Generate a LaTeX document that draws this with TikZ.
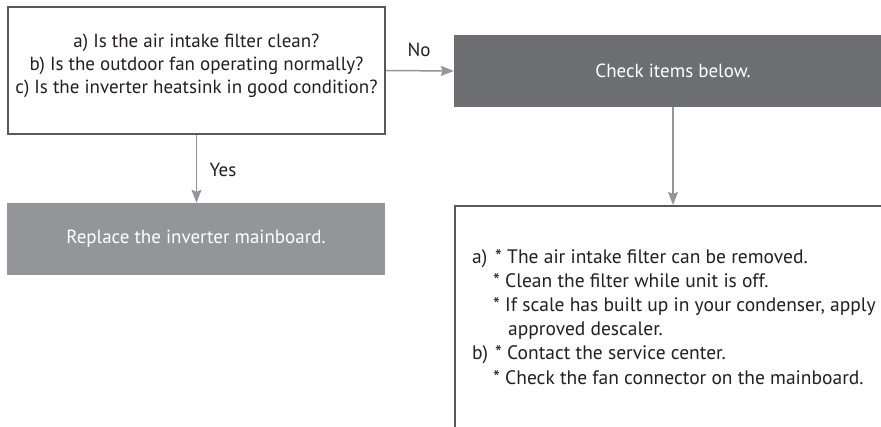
\documentclass[tikz,border=0pt]{standalone}
\usepackage{fontspec}
\setmainfont{PT Sans}
\usetikzlibrary{arrows.meta}
\definecolor{boxline}{HTML}{58595B}
\definecolor{darkfill}{HTML}{6D6E71}
\definecolor{lightfill}{HTML}{939598}
\definecolor{inkblack}{HTML}{231F20}

\begin{document}
\begin{tikzpicture}[x=1pt,y=1pt,
  every node/.style={font=\fontsize{19}{23}\selectfont, text=inkblack},
  outlinebox/.style={draw=boxline, line width=2pt, fill=white, inner sep=0pt},
  solidbox/.style={inner sep=0pt, text=white},
  flowarrow/.style={lightfill, line width=1.5pt, -{Stealth[length=13pt, width=10pt, inset=2pt]}}]
\clip (0,0) rectangle (881,-427);
\node[outlinebox, minimum width=377, minimum height=127] (question) at (196.5,-70.5) {};
\node[align=center] (qtext) at (196.5,-65.5) {a) Is the air intake filter clean?\\b) Is the outdoor fan operating normally?\\c) Is the inverter heatsink in good condition?};
\node[solidbox, fill=darkfill, minimum width=438, minimum height=72] (check) at (673,-71) {Check items below.};
\node[solidbox, fill=lightfill, minimum width=378, minimum height=72] (replace) at (196,-239) {Replace the inverter mainboard.};
\node[outlinebox, anchor=north west, minimum width=480, minimum height=260] (fixes) at (454,-205) {};
\node[anchor=north west, align=left, inner sep=0pt, font=\fontsize{19.5}{24.2}\selectfont] (ftext) at (472,-249) {%
\makebox[23pt][l]{a)}* The air intake filter can be removed.\\
\hspace*{21pt}* Clean the filter while unit is off.\\
\hspace*{21pt}* If scale has built up in your condenser, apply\\
\hspace*{36pt}approved descaler.\\
\makebox[23pt][l]{b)}* Contact the service center.\\
\hspace*{21pt}* Check the fan connector on the mainboard.};
\draw[flowarrow] (question.east) -- (check.west);
\draw[flowarrow] (question.south) -- (question.south |- replace.north);
\draw[flowarrow] (check.south) -- (check.south |- fixes.north);
\node (nolabel) at (419,-50) {No};
\node (yeslabel) at (223,-170) {Yes};
\end{tikzpicture}
\end{document}
